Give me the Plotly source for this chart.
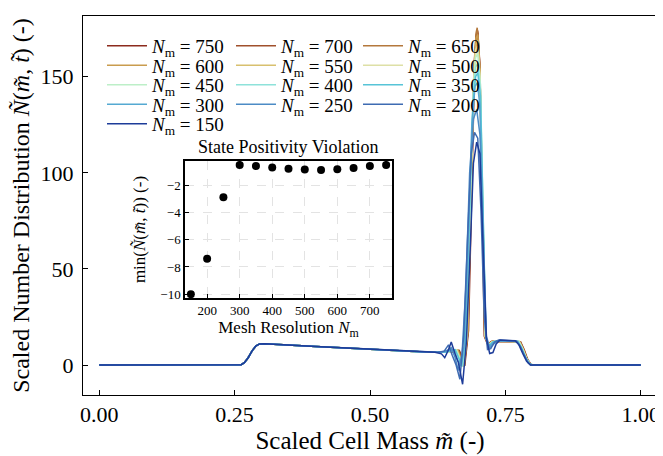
import plotly.graph_objects as go

# ---------------- data ----------------
resolutions = [750, 700, 650, 600, 550, 500, 450, 400, 350, 300, 250, 200, 150]
colors = ["#8C2B1D", "#A0502C", "#B4783C", "#C99C4E", "#D8C06E", "#DEE0A6",
          "#BDEFC8", "#8EE2DA", "#57C4D7", "#55A9D2", "#4C8BC5", "#3E6BB2", "#1D3C99"]

# shared smooth part of the distribution (left of the front) and right tail
left_x = [0.0, 0.20, 0.255, 0.262, 0.268, 0.275, 0.282, 0.289, 0.296, 0.305, 0.40, 0.50, 0.59]
left_y = [0.0, 0.0, 0.0, 0.2, 1.2, 3.8, 7.2, 9.9, 11.0, 11.1, 9.7, 8.2, 6.9]
tail_x = [0.85, 0.92, 1.00]
tail_y = [0.0, 0.0, 0.0]

# per-resolution front region (oscillations, peak, plateau)
mid_x = {
    150: [0.60, 0.620, 0.632, 0.638, 0.645, 0.650, 0.657, 0.663, 0.671, 0.678, 0.685, 0.691, 0.697, 0.703,
          0.709, 0.715, 0.721, 0.727, 0.733, 0.740, 0.768, 0.775, 0.782, 0.789, 0.796],
    200: [0.60, 0.625, 0.637, 0.645, 0.652, 0.659, 0.666, 0.673, 0.680, 0.687, 0.693, 0.699, 0.705, 0.711,
          0.717, 0.723, 0.730, 0.738, 0.770, 0.777, 0.784, 0.791, 0.797],
    250: [0.60, 0.630, 0.642, 0.650, 0.657, 0.663, 0.670, 0.677, 0.684, 0.691, 0.697, 0.703, 0.709, 0.715,
          0.721, 0.728, 0.736, 0.771, 0.778, 0.785, 0.792, 0.798],
    300: [0.60, 0.635, 0.647, 0.654, 0.661, 0.667, 0.674, 0.681, 0.688, 0.694, 0.698, 0.703, 0.709, 0.714,
          0.720, 0.727, 0.735, 0.772, 0.779, 0.786, 0.793, 0.799],
    350: [0.60, 0.638, 0.650, 0.657, 0.664, 0.669, 0.676, 0.683, 0.690, 0.695, 0.699, 0.704, 0.709, 0.714,
          0.720, 0.727, 0.735, 0.773, 0.780, 0.787, 0.794, 0.800],
    400: [0.60, 0.640, 0.651, 0.658, 0.665, 0.670, 0.677, 0.684, 0.690, 0.695, 0.699, 0.704, 0.709, 0.714,
          0.720, 0.727, 0.735, 0.774, 0.781, 0.788, 0.795, 0.800],
    450: [0.60, 0.642, 0.652, 0.659, 0.666, 0.671, 0.678, 0.685, 0.691, 0.695, 0.699, 0.704, 0.709, 0.713,
          0.719, 0.726, 0.734, 0.775, 0.782, 0.788, 0.795, 0.801],
    500: [0.60, 0.644, 0.653, 0.660, 0.667, 0.672, 0.679, 0.685, 0.691, 0.695, 0.699, 0.703, 0.708, 0.713,
          0.719, 0.726, 0.734, 0.775, 0.782, 0.789, 0.795, 0.801],
    550: [0.60, 0.645, 0.654, 0.661, 0.668, 0.673, 0.680, 0.686, 0.692, 0.696, 0.699, 0.703, 0.708, 0.713,
          0.719, 0.726, 0.734, 0.776, 0.783, 0.789, 0.796, 0.801],
    600: [0.60, 0.646, 0.655, 0.662, 0.668, 0.673, 0.680, 0.686, 0.692, 0.696, 0.699, 0.703, 0.708, 0.712,
          0.718, 0.725, 0.733, 0.776, 0.783, 0.789, 0.796, 0.802],
    650: [0.60, 0.647, 0.656, 0.663, 0.669, 0.674, 0.681, 0.687, 0.692, 0.696, 0.698, 0.702, 0.707, 0.712,
          0.718, 0.725, 0.733, 0.777, 0.784, 0.790, 0.796, 0.802],
    700: [0.60, 0.648, 0.657, 0.664, 0.670, 0.674, 0.681, 0.687, 0.692, 0.696, 0.699, 0.703, 0.707, 0.712,
          0.718, 0.725, 0.733, 0.777, 0.784, 0.790, 0.797, 0.802],
    750: [0.60, 0.649, 0.658, 0.665, 0.671, 0.675, 0.682, 0.688, 0.693, 0.696, 0.699, 0.703, 0.707, 0.711,
          0.717, 0.724, 0.732, 0.778, 0.785, 0.791, 0.797, 0.803],
}
mid_y = {
    150: [6.8, 6.6, 5.8, 3.8, 8.0, 12.0, 6.0, 1.5, -10.0, 12.0, 60.0, 105.0, 116.0, 110.0,
          60.0, 14.0, 6.0, 6.5, 11.0, 13.0, 12.6, 10.5, 6.0, 2.0, 0.0],
    200: [6.8, 6.6, 7.2, 10.5, 5.0, 0.0, -7.4, 15.0, 65.0, 110.0, 121.0, 118.0, 80.0, 25.0,
          8.0, 8.5, 12.0, 13.0, 12.5, 10.0, 5.5, 1.5, 0.0],
    250: [6.8, 6.7, 7.5, 9.0, 4.0, -2.88, 6.0, 40.0, 100.0, 128.0, 133.0, 120.0, 65.0, 15.0,
          9.0, 11.0, 12.8, 12.4, 9.5, 5.0, 1.2, 0.0],
    300: [6.8, 6.7, 7.8, 8.2, 3.0, -0.51, 10.0, 60.0, 125.0, 145.0, 147.0, 135.0, 70.0, 14.0,
          9.5, 11.5, 12.6, 12.3, 9.0, 4.5, 1.0, 0.0],
    350: [6.8, 6.7, 7.6, 8.0, 3.5, -0.59, 12.0, 70.0, 135.0, 150.0, 152.0, 140.0, 75.0, 14.0,
          10.0, 12.0, 12.6, 12.3, 8.5, 4.0, 0.8, 0.0],
    400: [6.8, 6.7, 7.5, 7.9, 3.2, -0.70, 13.0, 75.0, 138.0, 155.0, 157.0, 143.0, 75.0, 14.0,
          10.0, 12.0, 12.5, 12.3, 8.5, 3.8, 0.7, 0.0],
    450: [6.8, 6.7, 7.4, 7.8, 3.0, -0.78, 14.0, 80.0, 142.0, 160.0, 162.0, 146.0, 78.0, 15.0,
          10.2, 12.0, 12.5, 12.2, 8.3, 3.6, 0.6, 0.0],
    500: [6.8, 6.7, 7.4, 7.8, 2.8, -0.85, 15.0, 82.0, 146.0, 164.0, 166.0, 150.0, 80.0, 15.0,
          10.4, 12.1, 12.5, 12.2, 8.2, 3.5, 0.5, 0.0],
    550: [6.8, 6.7, 7.3, 7.7, 2.6, -0.88, 16.0, 85.0, 150.0, 167.0, 169.0, 152.0, 82.0, 15.0,
          10.5, 12.1, 12.5, 12.2, 8.0, 3.4, 0.5, 0.0],
    600: [6.8, 6.7, 7.3, 7.7, 2.8, -0.83, 17.0, 87.0, 152.0, 170.0, 172.0, 154.0, 84.0, 15.0,
          10.6, 12.1, 12.4, 12.1, 8.0, 3.3, 0.4, 0.0],
    650: [6.8, 6.7, 7.2, 7.6, 3.0, -0.73, 18.0, 90.0, 155.0, 173.0, 175.5, 157.0, 86.0, 15.0,
          10.7, 12.2, 12.4, 12.1, 7.9, 3.2, 0.4, 0.0],
    700: [6.8, 6.7, 7.2, 7.6, 3.2, -0.59, 18.0, 90.0, 154.0, 172.0, 174.0, 156.0, 86.0, 15.0,
          10.8, 12.2, 12.4, 12.1, 7.8, 3.1, 0.3, 0.0],
    750: [6.8, 6.7, 7.1, 7.5, 3.4, -0.51, 18.0, 90.0, 153.0, 171.0, 173.0, 155.0, 86.0, 15.0,
          10.8, 12.2, 12.4, 12.1, 7.8, 3.0, 0.3, 0.0],
}

# inset: minimum of the distribution vs. mesh resolution
inset_n = [150, 200, 250, 300, 350, 400, 450, 500, 550, 600, 650, 700, 750]
inset_min = [-10.0, -7.4, -2.88, -0.51, -0.59, -0.70, -0.78, -0.85, -0.88, -0.83, -0.73, -0.59, -0.51]

x_ticks = [0.0, 0.25, 0.5, 0.75, 1.0]
y_ticks = [0, 50, 100, 150]
inset_xticks = [200, 300, 400, 500, 600, 700]
inset_yticks = [-2, -4, -6, -8, -10]

# ---------------- figure ----------------
FONT = "Liberation Serif"
PAGE_OFF = 8                     # the page body offsets the figure by 8 px
W, H = 663 - PAGE_OFF, 456 - PAGE_OFF
# plot frame in page pixels: x 83..657, y 16..395
FX0, FX1, FY0, FY1 = 83, 657, 16, 395
ml, mr = FX0 - PAGE_OFF, 663 - FX1
mt, mb = FY0 - PAGE_OFF, 456 - FY1
pw, ph = FX1 - FX0, FY1 - FY0


def px_x(p):
    return (p - FX0) / pw


def px_y(p):
    return (FY1 - p) / ph


fig = go.Figure()

# legend grid: 3 columns, entries placed row by row
col_px = [102, 231, 358]
row_px = [46, 65.5, 85, 104.5, 124]
legend_layout = {}
for i, (n, c) in enumerate(zip(resolutions, colors)):
    key = "legend" if i == 0 else f"legend{i + 1}"
    legend_layout[key] = dict(
        x=px_x(col_px[i % 3]), y=px_y(row_px[i // 3]),
        xanchor="left", yanchor="middle",
        bgcolor="rgba(0,0,0,0)", borderwidth=0,
        font=dict(family=FONT, size=19, color="black"),
        itemwidth=40,
    )
    fig.add_trace(go.Scatter(
        x=left_x + mid_x[n] + tail_x, y=left_y + mid_y[n] + tail_y,
        mode="lines", line=dict(color=c, width=1.5),
        name=f"<i>N</i><sub>m</sub> = {n}",
        legend=key, xaxis="x", yaxis="y",
    ))

fig.add_trace(go.Scatter(
    x=inset_n, y=inset_min, mode="markers",
    marker=dict(color="black", size=8),
    showlegend=False, xaxis="x2", yaxis="y2",
))

fig.update_layout(
    width=W, height=H,
    margin=dict(l=ml, r=mr, t=mt, b=mb, autoexpand=False),
    paper_bgcolor="white", plot_bgcolor="white",
    font=dict(family=FONT, color="black"),
    **legend_layout,
    xaxis=dict(
        range=[-0.03, 1.03], tickvals=x_ticks, ticktext=[f"{v:.2f}" for v in x_ticks],
        automargin=False,
        showgrid=False, zeroline=False, showline=True, linecolor="black", linewidth=1,
        mirror=True, ticks="inside", ticklen=5, tickcolor="black",
        tickfont=dict(family=FONT, size=22),
        title=dict(text="Scaled Cell Mass <i>m̃</i> (-)", font=dict(family=FONT, size=25), standoff=3),
    ),
    yaxis=dict(
        range=[-15.6, 181.6], tickvals=y_ticks, automargin=False,
        showgrid=False, zeroline=False, showline=True, linecolor="black", linewidth=1,
        mirror=True, ticks="inside", ticklen=5, tickcolor="black", ticklabelstandoff=4,
        tickfont=dict(family=FONT, size=22),
        title=dict(text="Scaled Number Distribution <i>Ñ</i>(<i>m̃</i>, <i>t̃</i>) (-)",
                   font=dict(family=FONT, size=24), standoff=8),
    ),
    xaxis2=dict(
        domain=[px_x(185), px_x(392)], anchor="y2", automargin=False,
        range=[132, 768], tickvals=inset_xticks,
        showgrid=True, gridcolor="#e3e3e3", griddash="dash", gridwidth=1,
        zeroline=False, showline=True, linecolor="black", linewidth=1.5, mirror=True,
        ticks="inside", ticklen=4, tickcolor="black",
        tickfont=dict(family=FONT, size=13),
        title=dict(text="Mesh Resolution <i>N</i><sub>m</sub>", font=dict(family=FONT, size=17), standoff=0),
    ),
    yaxis2=dict(
        domain=[px_y(298), px_y(161)], anchor="x2", automargin=False,
        range=[-10.28, -0.22], tickvals=inset_yticks,
        showgrid=True, gridcolor="#e3e3e3", griddash="dash", gridwidth=1,
        zeroline=False, showline=True, linecolor="black", linewidth=1.5, mirror=True,
        ticks="inside", ticklen=4, tickcolor="black",
        tickfont=dict(family=FONT, size=13),
        title=dict(text="min(<i>Ñ</i>(<i>m̃</i>, <i>t̃</i>)) (-)", font=dict(family=FONT, size=17), standoff=10),
    ),
    annotations=[dict(
        text="State Positivity Violation", x=px_x(288.5), y=px_y(147),
        xref="paper", yref="paper", xanchor="center", yanchor="middle",
        showarrow=False, font=dict(family=FONT, size=18, color="black"),
    )],
)

fig.write_html("out.html")
